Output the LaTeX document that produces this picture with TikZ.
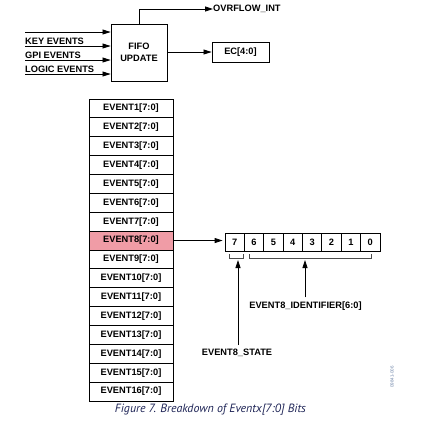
\documentclass[tikz,border=0pt]{standalone}
\usepackage{graphicx}
\usepackage{fontspec}
\setmainfont{Liberation Sans}
\newfontfamily\capfont{PT Sans}
\usetikzlibrary{arrows.meta}
\definecolor{hl}{HTML}{F09CA6}
\definecolor{capblue}{HTML}{1E2456}
\definecolor{idgrey}{HTML}{6E84A8}
\tikzset{
  lbl/.style={font=\fontsize{9.3}{10.5}\selectfont\bfseries, inner sep=0pt},
  boxn/.style={draw, line width=0.8pt, inner sep=0pt, font=\fontsize{9.3}{10.5}\selectfont\bfseries, align=center},
  reg/.style={boxn, minimum width=84bp, minimum height=18.875bp},
  bitb/.style={boxn, minimum width=19.375bp, minimum height=18bp},
  arr/.style={line width=0.8pt, -{Triangle[length=8bp,width=5bp]}},
  brk/.style={line width=0.6pt, draw=black!70}
}
\begin{document}
\begin{tikzpicture}[x=1bp,y=-1bp]
\useasboundingbox (0,0) rectangle (422,426);
% FIFO block
\node[boxn, minimum width=56bp, minimum height=57bp] (fifo) at (139,52.5) {FIFO\\[1pt]UPDATE};
\node[boxn, minimum width=57bp, minimum height=20bp] (ec) at (240.5,52) {EC[4:0]};
\node[lbl, anchor=west] (ovf) at (213,9) {OVRFLOW\_INT};
\coordinate (ovfc) at (139,9);
\draw[arr] (fifo.north) -- (ovfc) -- (ovf.west);
\draw[arr] (fifo.east |- ec.west) -- (ec.west);
% inputs
\foreach \yy/\nm in {32/a,46/b,60/c,74/d}{
  \coordinate (in\nm) at (25,\yy);
  \draw[arr] (in\nm) -- (in\nm -| fifo.west);
}
\node[lbl, anchor=south west] (lk) at (25,44.5) {KEY EVENTS};
\node[lbl, anchor=south west] (lg) at (25,58.5) {GPI EVENTS};
\node[lbl, anchor=south west] (ll) at (25,72.5) {LOGIC EVENTS};
% register column
\foreach \i in {1,...,16}{
  \ifnum\i=8
    \node[reg, fill=hl] (e\i) at (131,{99+18.875*(\i-0.5)}) {EVENT\i[7:0]};
  \else
    \node[reg] (e\i) at (131,{99+18.875*(\i-0.5)}) {EVENT\i[7:0]};
  \fi
}
% bits
\foreach \b [count=\k from 0] in {7,6,5,4,3,2,1,0}{
  \node[bitb] (b\b) at ({225+19.375*(\k+0.5)},242) {\b};
}
\draw[arr, shorten >=2bp] (e8.east) -- (b7.west |- e8.east);
% brackets
\draw[brk] (229,254) -- (229,258) -- (243,258) -- (243,254);
\draw[brk] (249,254) -- (249,258) -- (371,258) -- (371,254);
% labels
\node[lbl] (st) at (237,353) {EVENT8\_STATE};
\node[lbl] (id) at (305.5,306) {EVENT8\_IDENTIFIER[6:0]};
\coordinate (stt) at (238,260);
\coordinate (idt) at (305,260);
\draw[arr] (st.north -| stt) ++(0,-4) -- (stt);
\draw[arr] (id.north -| idt) ++(0,-4) -- (idt);
% id code
\node[font=\fontsize{4.5}{5}\selectfont, text=idgrey, rotate=90, inner sep=0pt] (code) at (392,377) {09841-006};
% caption
\node[font=\capfont\itshape\fontsize{10.5}{12}\selectfont, text=capblue, inner sep=0pt] (cap) at (210.5,410) {\resizebox{191bp}{!}{Figure 7. Breakdown of Eventx[7:0] Bits}};
\end{tikzpicture}
\end{document}
